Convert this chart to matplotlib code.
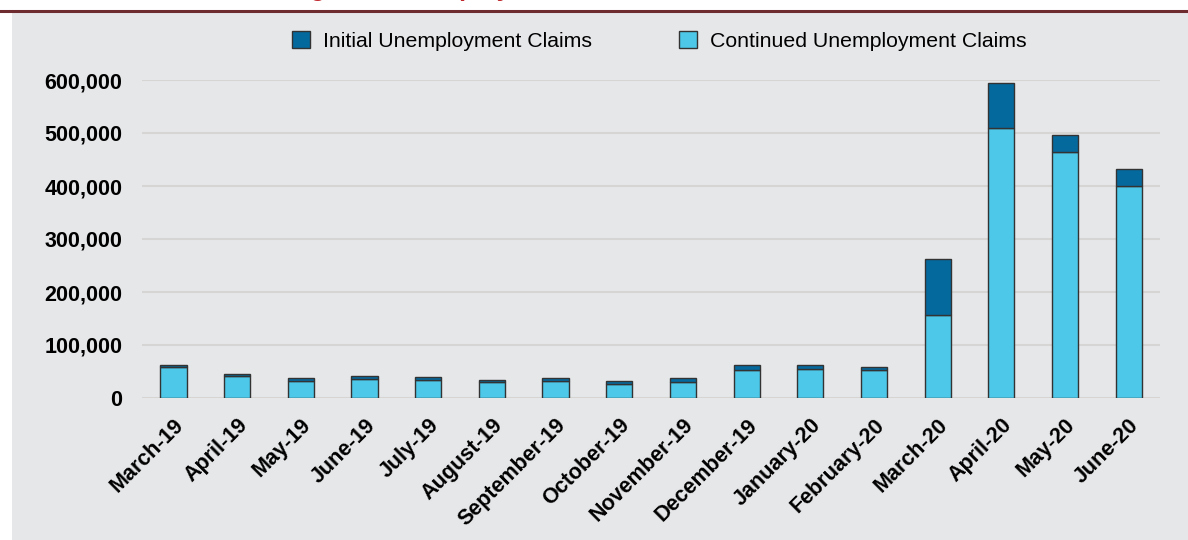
import numpy as np
import matplotlib.pyplot as plt
from matplotlib.patches import Rectangle
from matplotlib.lines import Line2D
from matplotlib.ticker import FuncFormatter

plt.rcParams['font.family'] = ['Liberation Sans', 'DejaVu Sans']

# data
months = ['March-19', 'April-19', 'May-19', 'June-19', 'July-19', 'August-19',
          'September-19', 'October-19', 'November-19', 'December-19',
          'January-20', 'February-20', 'March-20', 'April-20', 'May-20', 'June-20']
continued = [58000, 41000, 33000, 36500, 34600, 30800, 32700, 27000, 30800,
             52500, 54000, 52500, 156000, 508500, 465000, 400500]
initial = [4700, 4000, 4700, 5500, 5000, 3800, 5000, 6000, 6900,
           10200, 7500, 5200, 106500, 86000, 31000, 31500]

W, H = 1188, 540
fig = plt.figure(figsize=(W / 100, H / 100), dpi=100)
fig.patch.set_facecolor('white')

# grey panel + maroon rule at the top
fig.patches.append(Rectangle((12 / W, 0), 1 - 12 / W, 1 - 13 / H,
                             transform=fig.transFigure, facecolor='#E6E7E9',
                             edgecolor='none', zorder=-10))
fig.lines.append(Line2D([0, 1], [1 - 11 / H, 1 - 11 / H], transform=fig.transFigure,
                        color='#6E2B30', lw=2.2, zorder=-5))
# title sits mostly above the cut (only descenders show, as in the source)
fig.text(248 / W, 1 + 4 / H, 'Changes in Unemployment Claims', color='#C0282D',
         fontsize=18, fontweight='bold', ha='left', va='baseline')

ax = fig.add_axes([141.7 / W, 1 - 398 / H, (1160.4 - 141.7) / W, (398 - 80) / H])
ax.set_facecolor('none')

x = np.arange(len(months))
bw = 0.41
ax.bar(x, continued, bw, color='#4DC8E9', edgecolor='#333333', lw=1,
       label='Continued Unemployment Claims', zorder=3)
ax.bar(x, initial, bw, bottom=continued, color='#046A9E', edgecolor='#333333', lw=1,
       label='Initial Unemployment Claims', zorder=3)

ax.set_xlim(-0.5, len(months) - 0.5)
ax.set_ylim(0, 600000)
ax.set_yticks(np.arange(0, 600001, 100000))
ax.yaxis.set_major_formatter(FuncFormatter(lambda v, p: f'{int(v):,}'))
ax.yaxis.grid(True, color='#D7D5D3', lw=1.5, zorder=0)
ax.set_axisbelow(True)
for s in ax.spines.values():
    s.set_visible(False)
ax.tick_params(axis='y', length=0, pad=14, labelsize=15.5)
ax.tick_params(axis='x', length=0, pad=12, labelsize=15.5)
for t in ax.get_yticklabels():
    t.set_fontweight('bold')
ax.set_xticks(x)
ax.set_xticklabels(months, rotation=45, ha='right', rotation_mode='anchor',
                   fontweight='bold')

h, l = ax.get_legend_handles_labels()
fig.legend(h[::-1], l[::-1], loc='center', bbox_to_anchor=(659 / W, 1 - 41 / H),
           ncol=2, frameon=False, fontsize=15.3, handlelength=0.85, handleheight=0.85,
           handletextpad=0.6, columnspacing=4.1)

fig.savefig('out.png', dpi=100)
